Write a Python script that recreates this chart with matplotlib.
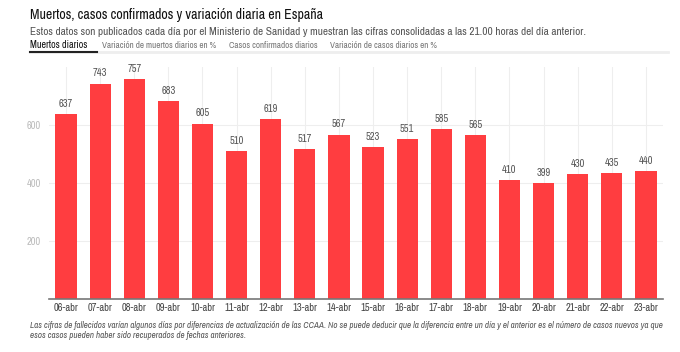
import matplotlib.pyplot as plt
from matplotlib.lines import Line2D

# ---------- Data ----------

dias = ['06-abr', '07-abr', '08-abr', '09-abr', '10-abr', '11-abr', '12-abr', '13-abr', '14-abr',
        '15-abr', '16-abr', '17-abr', '18-abr', '19-abr', '20-abr', '21-abr', '22-abr', '23-abr']
muertos = [637, 743, 757, 683, 605, 510, 619, 517, 567, 523, 551, 585, 565, 410, 399, 430, 435, 440]
yticks = [200, 400, 600]
tabs = ['Muertos diarios', 'Variación de muertos diarios en %', 'Casos confirmados diarios',
        'Variación de casos diarios en %']

# ---------- Plot ----------

plt.rcParams['font.family'] = ['Archivo Narrow', 'DejaVu Sans']

W, H = 680, 352
fig = plt.figure(figsize=(W / 100, H / 100), dpi=100)
ax = fig.add_axes([49 / W, 1 - 299 / H, (663 - 49) / W, (299 - 67) / H])

x = range(len(dias))
ax.bar(x, muertos, width=0.62, color='#ff3d40', zorder=2)
for i, v in zip(x, muertos):
    ax.text(i, v + 18, str(v), ha='center', va='bottom', fontsize=7.5, color='#555555')

ax.set_xlim(-0.5, len(dias) - 0.5)
ax.set_ylim(0, 800)
ax.set_xticks(list(x))
ax.set_xticklabels(dias, fontsize=7.5, color='#444444')
ax.set_yticks(yticks)
ax.set_yticklabels([str(t) for t in yticks], fontsize=7.5, color='#bbbbbb')
ax.tick_params(length=0, pad=3)
ax.tick_params(axis='y', pad=6)
ax.grid(True, color='#eeeeee', linewidth=0.8, zorder=0)
for s in ['top', 'right', 'left']:
    ax.spines[s].set_visible(False)
ax.spines['bottom'].set_color('#777777')
ax.spines['bottom'].set_linewidth(1.2)

# header
fig.text(30 / W, 1 - 15 / H, 'Muertos, casos confirmados y variación diaria en España',
         fontsize=10, fontweight='bold', color='#111111', va='center')
fig.text(30 / W, 1 - 32 / H, 'Estos datos son publicados cada día por el Ministerio de Sanidad y muestran '
         'las cifras consolidadas a las 21.00 horas del día anterior.',
         fontsize=8.1, color='#555555', va='center')

tab_x = [30, 102, 229, 330]
for i, (t, tx) in enumerate(zip(tabs, tab_x)):
    fig.text(tx / W, 1 - 45 / H, t, fontsize=7.2 if i == 0 else 6.5, va='center',
             color='#111111' if i == 0 else '#777777',
             fontweight='bold' if i == 0 else 'normal')
fig.add_artist(Line2D([30 / W, 668 / W], [1 - 52 / H, 1 - 52 / H], color='#eeeeee', linewidth=2))
fig.add_artist(Line2D([30 / W, 97 / W], [1 - 52 / H, 1 - 52 / H], color='#222222', linewidth=1.5))

# footnote
fig.text(30 / W, 1 - 326 / H, 'Las cifras de fallecidos varían algunos días por diferencias de actualización '
         'de las CCAA. No se puede deducir que la diferencia entre un día y el anterior es el número de '
         'casos nuevos ya que', fontsize=6.5, style='italic', color='#555555', va='center')
fig.text(30 / W, 1 - 335 / H, 'esos casos pueden haber sido recuperados de fechas anteriores.',
         fontsize=6.5, style='italic', color='#555555', va='center')

fig.savefig('out.png', dpi=100)
